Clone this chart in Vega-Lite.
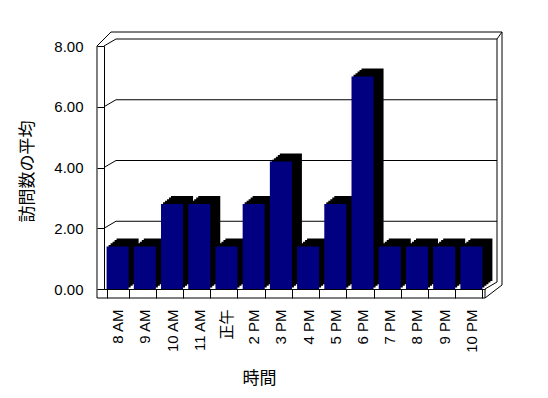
{
  "$schema": "https://vega.github.io/schema/vega-lite/v6.json",
  "width": 381,
  "height": 243,
  "autosize": {"type": "none"},
  "padding": {"left": 104, "top": 46, "right": 63, "bottom": 109},
  "background": "white",
  "config": {
    "view": {"stroke": null},
    "axis": {"domainColor": "black", "tickColor": "black", "labelColor": "black", "titleColor": "black", "grid": false},
    "rule": {"color": "black", "strokeWidth": 1}
  },
  "data": {"values": [
    {"t": "8 AM", "v": 1.4},
    {"t": "9 AM", "v": 1.4},
    {"t": "10 AM", "v": 2.8},
    {"t": "11 AM", "v": 2.8},
    {"t": "正午", "v": 1.4},
    {"t": "2 PM", "v": 2.8},
    {"t": "3 PM", "v": 4.2},
    {"t": "4 PM", "v": 1.4},
    {"t": "5 PM", "v": 2.8},
    {"t": "6 PM", "v": 7.0},
    {"t": "7 PM", "v": 1.4},
    {"t": "8 PM", "v": 1.4},
    {"t": "9 PM", "v": 1.4},
    {"t": "10 PM", "v": 1.4}
  ]},
  "layer": [
    {
      "data": {"values": [{"g": 2}, {"g": 4}, {"g": 6}, {"g": 8}]},
      "mark": {"type": "rule", "xOffset": 9.4, "x2Offset": 14.6, "yOffset": -7},
      "encoding": {
        "x": {
          "datum": "8 AM", "type": "nominal", "bandPosition": 0,
          "scale": {
            "domain": ["8 AM", "9 AM", "10 AM", "11 AM", "正午", "2 PM", "3 PM", "4 PM", "5 PM", "6 PM", "7 PM", "8 PM", "9 PM", "10 PM"],
            "paddingInner": 0.19, "paddingOuter": 0.095
          },
          "axis": {
            "title": "時間",
            "tickBand": "extent",
            "tickSize": 9,
            "labelAngle": 270,
            "labelPadding": 11,
            "labelFont": "Liberation Sans, Noto Sans CJK JP",
            "labelFontSize": 15,
            "titleFont": "Noto Sans CJK JP",
            "titleFontSize": 17,
            "titleFontWeight": "normal",
            "titleX": 155,
            "titleY": 89,
            "titleBaseline": "middle",
            "titleAlign": "center"
          }
        },
        "x2": {"datum": "10 PM", "bandPosition": 1},
        "y": {
          "field": "g", "type": "quantitative",
          "scale": {"domain": [0, 8], "nice": false},
          "axis": {
            "title": "訪問数の平均",
            "values": [0, 2, 4, 6, 8],
            "format": ".2f",
            "tickSize": 7,
            "labelPadding": 14,
            "labelFont": "Liberation Sans",
            "labelFontSize": 15,
            "titleFont": "Noto Sans CJK JP",
            "titleFontSize": 17,
            "titleFontWeight": "normal",
            "titleX": -77,
            "titleY": 125,
            "titleAngle": 270,
            "titleBaseline": "middle",
            "titleAlign": "center"
          }
        }
      }
    },
    {
      "data": {"values": [{"g": 2}, {"g": 4}, {"g": 6}, {"g": 8}]},
      "mark": {"type": "rule", "xOffset": -2.6, "x2Offset": 9.4, "y2Offset": -7},
      "encoding": {
        "x": {"datum": "8 AM", "type": "nominal", "bandPosition": 0},
        "x2": {"datum": "8 AM", "bandPosition": 0},
        "y": {"field": "g", "type": "quantitative"},
        "y2": {"field": "g"}
      }
    },
    {
      "data": {"values": [{}]},
      "mark": {"type": "rule", "xOffset": -9.6, "y2Offset": 9},
      "encoding": {
        "x": {"datum": "8 AM", "type": "nominal", "bandPosition": 0},
        "y": {"datum": 8, "type": "quantitative"},
        "y2": {"datum": 0}
      }
    },
    {
      "data": {"values": [{}]},
      "mark": {"type": "rule", "xOffset": -9.6, "x2Offset": 2.6, "yOffset": 9},
      "encoding": {
        "x": {"datum": "8 AM", "type": "nominal", "bandPosition": 0},
        "x2": {"datum": "10 PM", "bandPosition": 1},
        "y": {"datum": 0, "type": "quantitative"}
      }
    },
    {
      "data": {"values": [{}]},
      "mark": {"type": "rule", "xOffset": 2.6, "y2Offset": 9},
      "encoding": {
        "x": {"datum": "10 PM", "type": "nominal", "bandPosition": 1},
        "y": {"datum": 0, "type": "quantitative"},
        "y2": {"datum": 0}
      }
    },
    {
      "data": {"values": [{}]},
      "mark": {"type": "rule", "xOffset": 14.6, "yOffset": -7, "y2Offset": -7},
      "encoding": {
        "x": {"datum": "10 PM", "type": "nominal", "bandPosition": 1},
        "y": {"datum": 8, "type": "quantitative"},
        "y2": {"datum": 0}
      }
    },
    {
      "data": {"values": [{}]},
      "mark": {"type": "rule", "xOffset": 4.4, "x2Offset": 19.6, "yOffset": -14},
      "encoding": {
        "x": {"datum": "8 AM", "type": "nominal", "bandPosition": 0},
        "x2": {"datum": "10 PM", "bandPosition": 1},
        "y": {"datum": 8, "type": "quantitative"}
      }
    },
    {
      "data": {"values": [{}]},
      "mark": {"type": "rule", "xOffset": 19.6, "yOffset": -14, "y2Offset": -4},
      "encoding": {
        "x": {"datum": "10 PM", "type": "nominal", "bandPosition": 1},
        "y": {"datum": 8, "type": "quantitative"},
        "y2": {"datum": 0}
      }
    },
    {
      "data": {"values": [{}]},
      "mark": {"type": "rule", "xOffset": -9.6, "x2Offset": 4.4, "y2Offset": -14},
      "encoding": {
        "x": {"datum": "8 AM", "type": "nominal", "bandPosition": 0},
        "x2": {"datum": "8 AM", "bandPosition": 0},
        "y": {"datum": 8, "type": "quantitative"},
        "y2": {"datum": 8}
      }
    },
    {
      "data": {"values": [{}]},
      "mark": {"type": "rule", "xOffset": 14.6, "x2Offset": 19.6, "yOffset": -7, "y2Offset": -14},
      "encoding": {
        "x": {"datum": "10 PM", "type": "nominal", "bandPosition": 1},
        "x2": {"datum": "10 PM", "bandPosition": 1},
        "y": {"datum": 8, "type": "quantitative"},
        "y2": {"datum": 8}
      }
    },
    {
      "data": {"values": [{}]},
      "mark": {"type": "rule", "xOffset": 2.6, "x2Offset": 14.6, "y2Offset": -7},
      "encoding": {
        "x": {"datum": "10 PM", "type": "nominal", "bandPosition": 1},
        "x2": {"datum": "10 PM", "bandPosition": 1},
        "y": {"datum": 0, "type": "quantitative"},
        "y2": {"datum": 0}
      }
    },
    {
      "data": {"values": [{}]},
      "mark": {"type": "rule", "xOffset": 2.6, "x2Offset": 19.6, "yOffset": 9, "y2Offset": -4},
      "encoding": {
        "x": {"datum": "10 PM", "type": "nominal", "bandPosition": 1},
        "x2": {"datum": "10 PM", "bandPosition": 1},
        "y": {"datum": 0, "type": "quantitative"},
        "y2": {"datum": 0}
      }
    },
    {
      "mark": {"type": "bar", "color": "black", "xOffset": 10, "yOffset": -8, "y2Offset": -8},
      "encoding": {
        "x": {"field": "t", "type": "nominal", "sort": null},
        "y": {"field": "v", "type": "quantitative"}
      }
    },
    {
      "mark": {"type": "bar", "color": "black", "xOffset": 8, "yOffset": -6.4, "y2Offset": -6.4},
      "encoding": {
        "x": {"field": "t", "type": "nominal", "sort": null},
        "y": {"field": "v", "type": "quantitative"}
      }
    },
    {
      "mark": {"type": "bar", "color": "black", "xOffset": 6, "yOffset": -4.8, "y2Offset": -4.8},
      "encoding": {
        "x": {"field": "t", "type": "nominal", "sort": null},
        "y": {"field": "v", "type": "quantitative"}
      }
    },
    {
      "mark": {"type": "bar", "color": "black", "xOffset": 4, "yOffset": -3.2, "y2Offset": -3.2},
      "encoding": {
        "x": {"field": "t", "type": "nominal", "sort": null},
        "y": {"field": "v", "type": "quantitative"}
      }
    },
    {
      "mark": {"type": "bar", "color": "black", "xOffset": 2, "yOffset": -1.6, "y2Offset": -1.6},
      "encoding": {
        "x": {"field": "t", "type": "nominal", "sort": null},
        "y": {"field": "v", "type": "quantitative"}
      }
    },
    {
      "mark": {"type": "bar", "color": "#000080"},
      "encoding": {
        "x": {"field": "t", "type": "nominal", "sort": null},
        "y": {"field": "v", "type": "quantitative"}
      }
    }
  ]
}
